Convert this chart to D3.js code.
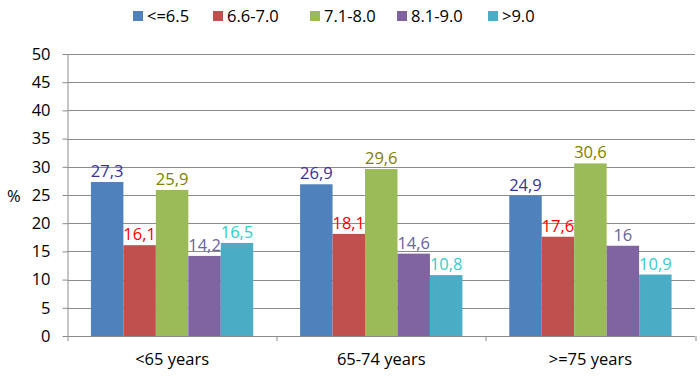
<!DOCTYPE html>
<html>
<head>
<meta charset="utf-8">
<script src="https://cdn.jsdelivr.net/npm/d3@7"></script>
<style>
  body { margin: 0; background: #fff; }
  text { font-family: "Open Sans", "Liberation Sans", sans-serif; }
</style>
</head>
<body>
<div id="chart"></div>
<script>
const groups = ["<65 years", "65-74 years", ">=75 years"]
const series = ["<=6.5", "6.6-7.0", "7.1-8.0", "8.1-9.0", ">9.0"]
const under65 = [27.3, 16.1, 25.9, 14.2, 16.5]
const age6574 = [26.9, 18.1, 29.6, 14.6, 10.8]
const over75 = [24.9, 17.6, 30.6, 16, 10.9]
const yTicks = [0, 5, 10, 15, 20, 25, 30, 35, 40, 45, 50]

const barColors = ["#4F81BD", "#C0504D", "#9BBB59", "#8064A2", "#4BACC6"]
const labelColors = ["#333399", "#FF0000", "#808000", "#666699", "#33CCCC"]

const W = 700, H = 379
const margin = {top: 54, right: 5, bottom: 43, left: 67.5}
const width = W - margin.left - margin.right
const height = H - margin.top - margin.bottom
const fs = 16.5

const svg = d3.select('#chart').append('svg')
  .attr('width', W).attr('height', H)
const g = svg.append('g')
  .attr('transform', 'translate(' + margin.left + ',' + margin.top + ')')

const values = [under65, age6574, over75]
const data = []
groups.forEach((grp, i) => {
  series.forEach((s, j) => data.push({grp: grp, s: s, j: j, v: values[i][j]}))
})

const x0 = d3.scaleBand().domain(groups).range([0, width]).paddingInner(0.224).paddingOuter(0.112)
const x1 = d3.scaleBand().domain(series).range([0, x0.bandwidth()])
const y = d3.scaleLinear().domain([0, 50]).range([height, 0])
const step = width / groups.length

// gridlines
g.selectAll('.grid').data(yTicks.filter(d => d > 0)).enter().append('line')
  .attr('x1', 0).attr('x2', width)
  .attr('y1', d => Math.round(y(d)) + 0.5).attr('y2', d => Math.round(y(d)) + 0.5)
  .attr('stroke', '#8c8c8c').attr('stroke-width', 1)

// y axis
const yAxis = d3.axisLeft(y).tickValues(yTicks).tickSize(5).tickPadding(12)
const ya = g.append('g').call(yAxis)
ya.select('.domain').attr('stroke', '#8c8c8c').attr('d', 'M0.5,' + height + 'V0')
ya.selectAll('.tick line').attr('stroke', '#8c8c8c')
ya.selectAll('.tick text').attr('font-size', fs).attr('fill', '#000')
  .style('font-family', '"Open Sans", sans-serif')

// x axis baseline with category separators
g.append('line').attr('x1', 0).attr('x2', width)
  .attr('y1', height + 0.5).attr('y2', height + 0.5).attr('stroke', '#8c8c8c')
g.selectAll('.sep').data(d3.range(groups.length + 1)).enter().append('line')
  .attr('x1', d => Math.round(d * step) + 0.5).attr('x2', d => Math.round(d * step) + 0.5)
  .attr('y1', height).attr('y2', height + 5).attr('stroke', '#8c8c8c')
g.selectAll('.cat').data(groups).enter().append('text')
  .attr('x', d => x0(d) + x0.bandwidth() / 2).attr('y', height + 29)
  .attr('text-anchor', 'middle').attr('font-size', fs).text(d => d)

// bars
g.selectAll('.bar').data(data).enter().append('rect')
  .attr('x', d => x0(d.grp) + x1(d.s))
  .attr('y', d => y(d.v))
  .attr('width', x1.bandwidth())
  .attr('height', d => height - y(d.v))
  .attr('fill', d => barColors[d.j])

// value labels
g.selectAll('.lbl').data(data).enter().append('text')
  .attr('x', d => x0(d.grp) + x1(d.s) + x1.bandwidth() / 2)
  .attr('y', d => y(d.v) - 5)
  .attr('text-anchor', 'middle').attr('font-size', fs)
  .attr('fill', d => labelColors[d.j])
  .text(d => String(d.v).replace('.', ','))

// y title
svg.append('text').attr('x', 7).attr('y', 202).attr('font-size', fs).text('%')

// legend
const legendX = [133, 213, 310, 397, 488]
const leg = svg.selectAll('.leg').data(series).enter().append('g')
  .attr('transform', (d, i) => 'translate(' + legendX[i] + ',11)')
leg.append('rect').attr('width', 10).attr('height', 10).attr('fill', (d, i) => barColors[i])
leg.append('text').attr('x', 14).attr('y', 11).attr('font-size', fs).text(d => d)
</script>
</body>
</html>
